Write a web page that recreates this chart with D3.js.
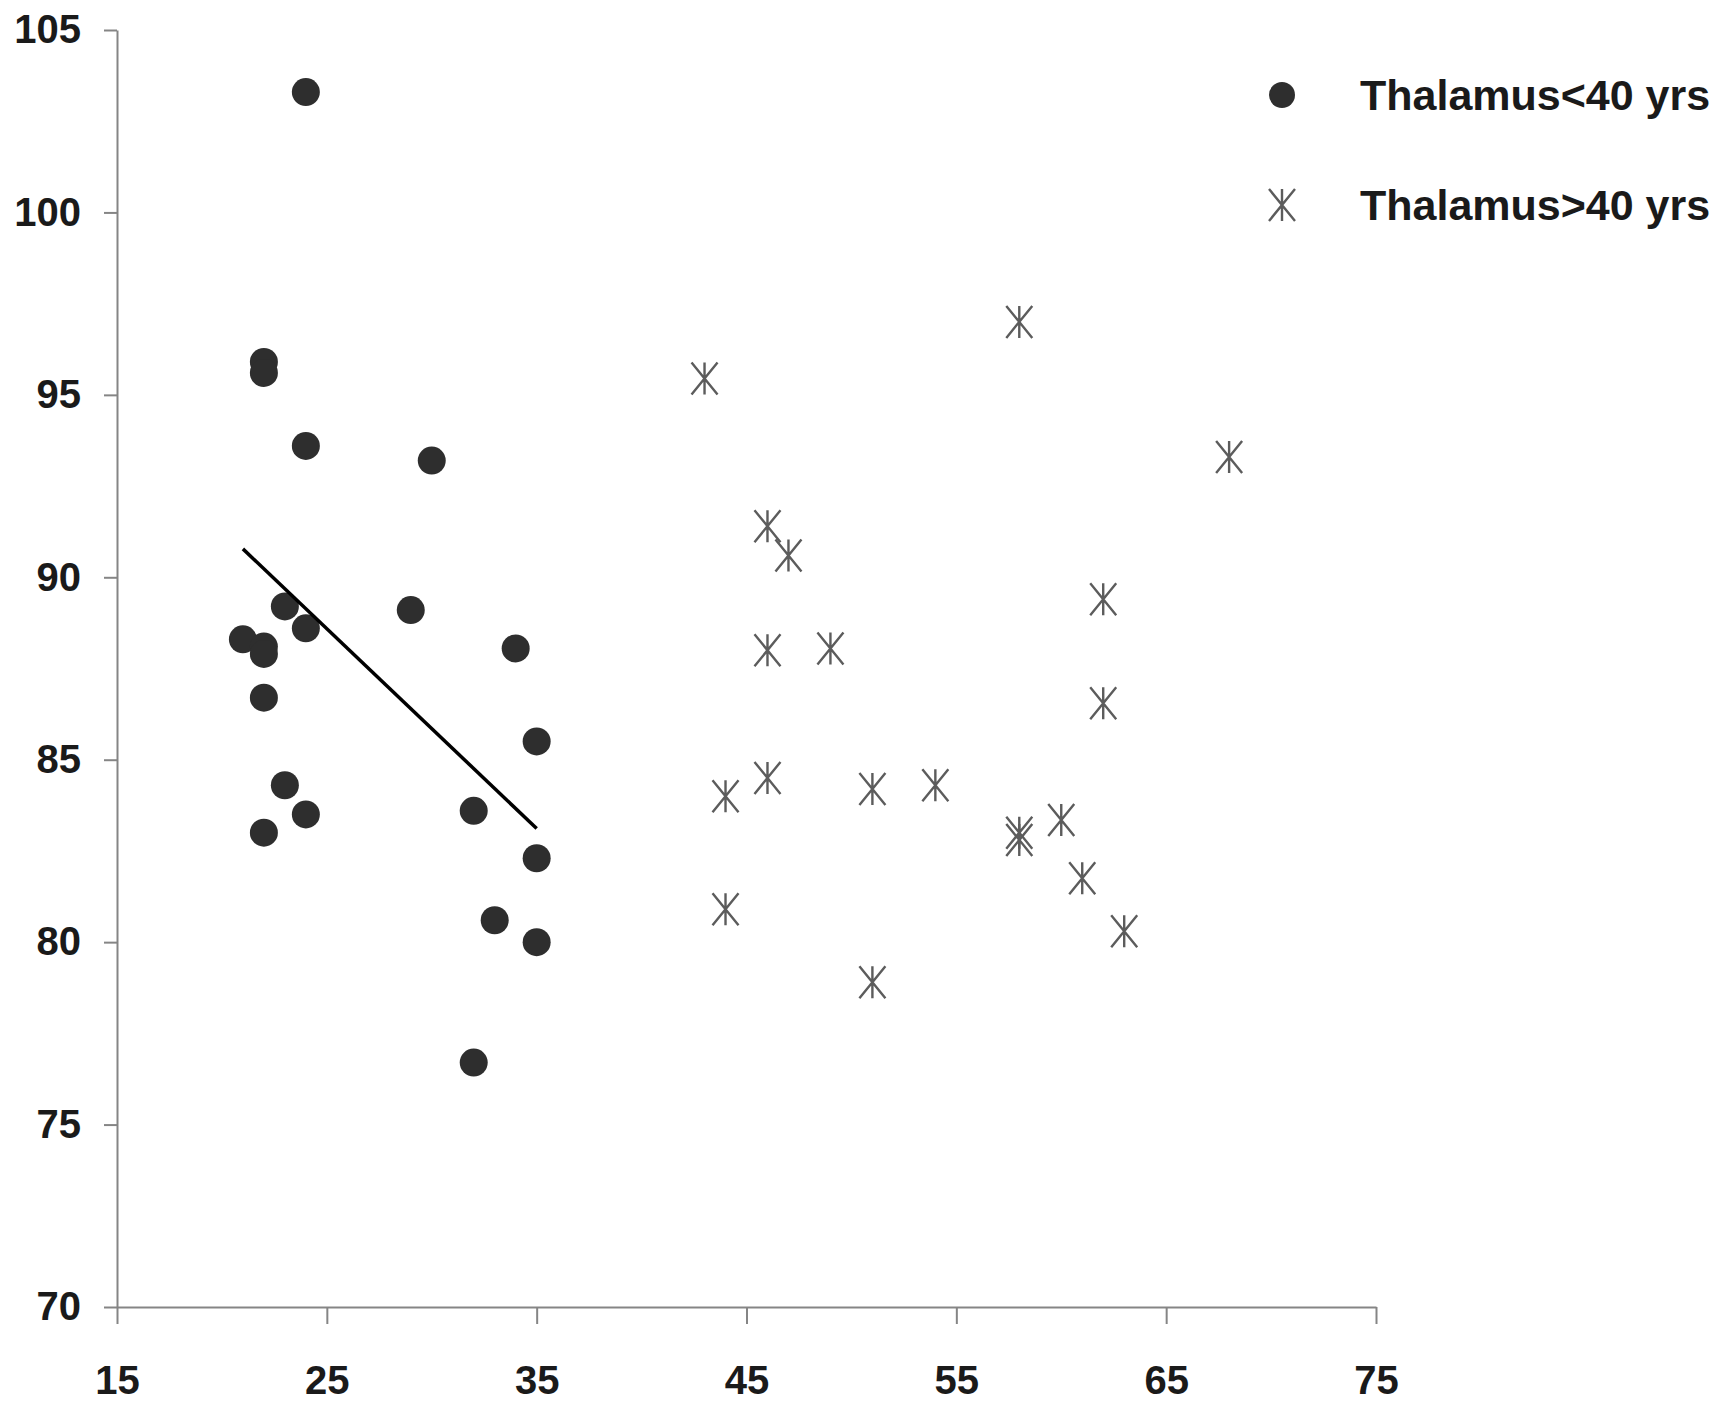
<!DOCTYPE html>
<html>
<head>
<meta charset="utf-8">
<script src="https://cdn.jsdelivr.net/npm/d3@7"></script>
<style>
    body { margin: 0; background: #fff; }
    .axis text { font-family: "Liberation Sans", Arial, sans-serif; font-weight: bold; font-size: 40px; fill: #1a1a1a; }
    .axis path, .axis line { stroke: #858585; stroke-width: 2; }
    .legend text { font-family: "Liberation Sans", Arial, sans-serif; font-weight: bold; font-size: 43px; fill: #1a1a1a; }
</style>
</head>
<body>
<script>
//data
var youngAge = [24, 22, 22, 24, 30, 23, 24, 21, 22, 22, 22, 29, 34, 35, 23, 24, 22, 32, 35, 33, 35, 32];
var youngThal = [103.3, 95.9, 95.6, 93.6, 93.2, 89.2, 88.6, 88.3, 88.1, 87.9, 86.7, 89.1, 88.05, 85.5, 84.3, 83.5, 83.0, 83.6, 82.3, 80.6, 80.0, 76.7];

var oldAge = [43, 58, 68, 46, 47, 62, 46, 49, 62, 44, 46, 51, 54, 58, 58, 60, 61, 63, 44, 51];
var oldThal = [95.45, 97.0, 93.3, 91.4, 90.6, 89.4, 88.0, 88.05, 86.55, 84.0, 84.5, 84.2, 84.3, 82.8, 83.0, 83.35, 81.75, 80.3, 80.9, 78.9];

var xTicks = [15, 25, 35, 45, 55, 65, 75];
var yTicks = [70, 75, 80, 85, 90, 95, 100, 105];
var legendLabels = ["Thalamus<40 yrs", "Thalamus>40 yrs"];

var container = d3.select("body")
    .append("svg")
    .attr("width", 1723)
    .attr("height", 1405);

//scales
var x = d3.scaleLinear()
    .domain([15, 75])
    .range([117, 1376]);

var y = d3.scaleLinear()
    .domain([70, 105])
    .range([1307, 30]);

//axes
container.append("g")
    .attr("class", "axis")
    .attr("transform", "translate(0, " + y(70) + ")")
    .call(d3.axisBottom(x).tickValues(xTicks).tickSize(17).tickSizeOuter(0).tickPadding(42));

container.append("g")
    .attr("class", "axis")
    .attr("transform", "translate(" + x(15) + ", 0)")
    .call(d3.axisLeft(y).tickValues(yTicks).tickSize(13).tickSizeOuter(0).tickPadding(23));

//star marker like excel's
function star(cx, cy) {
    var w = 13, h = 16;
    return "M" + cx + "," + (cy - h) + "L" + cx + "," + (cy + h) +
        "M" + (cx - w) + "," + (cy - h) + "L" + (cx + w) + "," + (cy + h) +
        "M" + (cx + w) + "," + (cy - h) + "L" + (cx - w) + "," + (cy + h);
}

var young = youngAge.map(function(d, i){ return {age: d, thal: youngThal[i]}; });
var old = oldAge.map(function(d, i){ return {age: d, thal: oldThal[i]}; });

container.selectAll(".stars")
    .data(old)
    .enter()
    .append("path")
    .attr("class", "stars")
    .attr("d", function(d){
        return star(x(d.age), y(d.thal));
    })
    .style("fill", "none")
    .style("stroke", "#5c5c5c")
    .style("stroke-width", 2.4);

container.selectAll(".dots")
    .data(young)
    .enter()
    .append("circle")
    .attr("class", "dots")
    .attr("cx", function(d){ return x(d.age); })
    .attr("cy", function(d){ return y(d.thal); })
    .attr("r", 14)
    .style("fill", "#2e2e2e");

//least squares trend line for the younger group
var mx = d3.mean(young, function(d){ return d.age; });
var my = d3.mean(young, function(d){ return d.thal; });
var sxy = d3.sum(young, function(d){ return (d.age - mx) * (d.thal - my); });
var sxx = d3.sum(young, function(d){ return (d.age - mx) * (d.age - mx); });
var slope = sxy / sxx;
var x0 = d3.min(youngAge), x1 = d3.max(youngAge);

container.append("line")
    .attr("x1", x(x0))
    .attr("y1", y(my + slope * (x0 - mx)))
    .attr("x2", x(x1))
    .attr("y2", y(my + slope * (x1 - mx)))
    .style("stroke", "#000")
    .style("stroke-width", 3.5);

//legend
var legend = container.append("g")
    .attr("class", "legend");

legend.append("circle")
    .attr("cx", 1282)
    .attr("cy", 95)
    .attr("r", 13)
    .style("fill", "#2e2e2e");

legend.append("path")
    .attr("d", star(1282, 205))
    .style("fill", "none")
    .style("stroke", "#5c5c5c")
    .style("stroke-width", 2.4);

legend.selectAll("text")
    .data(legendLabels)
    .enter()
    .append("text")
    .attr("x", 1360)
    .attr("y", function(d, i){ return 95 + i * 110 + 15; })
    .text(function(d){ return d; });
</script>
</body>
</html>
